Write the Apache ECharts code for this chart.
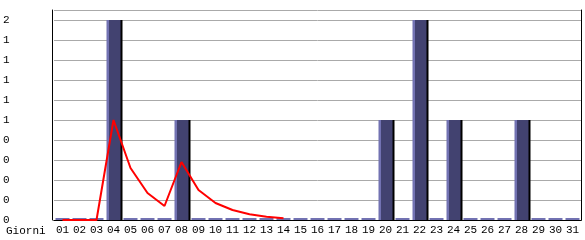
<!DOCTYPE html>
<html>
<head>
<meta charset="utf-8">
<script src="https://cdn.jsdelivr.net/npm/echarts@6/dist/echarts.min.js"></script>
<style>
html,body{margin:0;padding:0;background:#fff;}
#c{width:585px;height:240px;}
</style>
</head>
<body>
<div id="c"></div>
<script>
var days = ['01','02','03','04','05','06','07','08','09','10','11','12','13','14','15','16','17','18','19','20','21','22','23','24','25','26','27','28','29','30','31'];
var visits = [0,0,0,2,0,0,0,1,0,0,0,0,0,0,0,0,0,0,0,1,0,2,0,1,0,0,0,1,0,0,0];
var trend = [0,0,0,1.0,0.52,0.27,0.14,0.58,0.30,0.17,0.10,0.057,0.033,0.017];
var yTickLabels = ['0','0','0','0','0','1','1','1','1','1','2'];
var xAxisName = 'Giorni';

var LIGHT = '#7272b2', DARK = '#424270';
var FONT = 'Liberation Mono';

var barFill = {
  type: 'linear', x: 0, y: 0, x2: 1, y2: 0,
  colorStops: [
    {offset: 0, color: LIGHT}, {offset: 0.15, color: LIGHT},
    {offset: 0.15, color: DARK}, {offset: 1, color: DARK}
  ]
};

var barData = visits.map(function (v) {
  if (v === 0) {
    return {value: v, itemStyle: {color: LIGHT, shadowColor: 'rgba(0,0,0,0)', shadowOffsetX: 0}};
  }
  return {value: v};
});

var chart = echarts.init(document.getElementById('c'), null, {renderer: 'canvas'});
chart.setOption({
  animation: false,
  backgroundColor: '#ffffff',
  title: {
    text: xAxisName, left: 1, top: 221,
    textStyle: {fontFamily: FONT, fontSize: 11, fontWeight: 'normal', color: '#000'}
  },
  grid: {left: 53, right: 4, top: 10, bottom: 20},
  xAxis: [{
    type: 'category', data: days, position: 'bottom',
    axisLine: {lineStyle: {color: '#000', width: 1}},
    axisTick: {alignWithLabel: true, length: 5, lineStyle: {color: '#000'}},
    axisLabel: {interval: 0, margin: 5, fontFamily: FONT, fontSize: 11, color: '#000'},
    splitLine: {show: false}
  }, {
    type: 'category', data: days, position: 'top',
    axisLine: {show: true, lineStyle: {color: '#000', width: 1}},
    axisTick: {show: false}, axisLabel: {show: false}, splitLine: {show: false}
  }],
  yAxis: [{
    type: 'value', min: 0, max: 2.1, interval: 0.2, offset: 2,
    axisLine: {show: true, lineStyle: {color: '#000', width: 1}},
    axisTick: {show: false},
    axisLabel: {
      align: 'left', margin: 49, fontFamily: FONT, fontSize: 11, color: '#000',
      formatter: function (v) {
        var k = v / 0.2;
        var i = Math.round(k);
        if (Math.abs(k - i) > 0.01 || i < 0 || i >= yTickLabels.length) return '';
        return yTickLabels[i];
      }
    },
    splitLine: {show: true, lineStyle: {color: '#aaaaaa', width: 1}}
  }, {
    type: 'value', min: 0, max: 2.1, position: 'right',
    axisLine: {show: true, lineStyle: {color: '#000', width: 1}},
    axisTick: {show: false}, axisLabel: {show: false}, splitLine: {show: false}
  }],
  series: [{
    type: 'bar', data: barData, barWidth: 14, barMinHeight: 2,
    itemStyle: {color: barFill, shadowColor: '#000', shadowOffsetX: 2, shadowOffsetY: 0, shadowBlur: 0},
    z: 2
  }, {
    type: 'line', data: trend, symbol: 'none', smooth: false,
    lineStyle: {color: '#ff0000', width: 2},
    z: 3
  }]
});
</script>
</body>
</html>
